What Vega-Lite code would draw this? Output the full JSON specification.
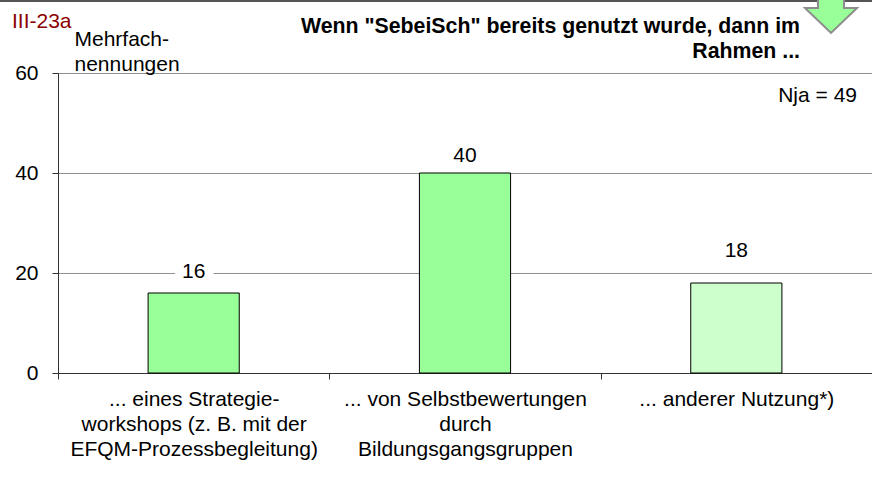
{"$schema":"https://vega.github.io/schema/vega-lite/v6.json","width":814,"height":300,"autosize":{"type":"none"},"padding":{"left":58,"top":73,"right":0,"bottom":124},"background":"white","view":{"stroke":null},"config":{"font":"Liberation Sans"},
"title":{"text":["Wenn \"SebeiSch\" bereits genutzt wurde, dann im","Rahmen ..."],"anchor":"end","align":"right","frame":"group","font":"Liberation Sans","fontSize":21.3,"fontWeight":"bold","color":"#000000","lineHeight":25,"dx":-72,"offset":-74},
"data":{"values":[{"kategorie":"... eines Strategie-\nworkshops (z. B. mit der\nEFQM-Prozessbegleitung)","anzahl":16,"farbe":"a"},{"kategorie":"... von Selbstbewertungen\ndurch\nBildungsgangsgruppen","anzahl":40,"farbe":"a"},{"kategorie":"... anderer Nutzung*)","anzahl":18,"farbe":"b"}]},
"resolve":{"scale":{"x":"independent"}},
"layer":[
{"layer":[
{"mark":{"type":"bar","width":{"band":0.336},"stroke":"#000000","strokeWidth":1},
"encoding":{"x":{"field":"kategorie","type":"nominal","sort":null,"scale":{"paddingInner":0,"paddingOuter":0},"axis":{"title":null,"labelAngle":0,"labelAlign":"center","labelBaseline":"top","labelFont":"Liberation Sans","labelFontSize":21,"labelColor":"#000000","labelLineHeight":25,"labelPadding":9,"labelLimit":0,"tickBand":"extent","tickColor":"#333333","tickSize":6,"domainColor":"#333333","grid":false,"labelExpr":"split(datum.label,'\\n')"}},
"y":{"field":"anzahl","type":"quantitative","scale":{"domain":[0,60],"nice":false,"clamp":false},"axis":{"title":["Mehrfach-","nennungen"],"titleFont":"Liberation Sans","titleFontSize":21,"titleFontWeight":"normal","titleColor":"#000000","titleAngle":0,"titleAlign":"left","titleBaseline":"alphabetic","titleLineHeight":25,"titleX":16,"titleY":-28,"values":[0,20,40,60],"labelFont":"Liberation Sans","labelFontSize":21,"labelColor":"#000000","labelPadding":14,"tickColor":"#333333","tickSize":6,"domainColor":"#333333","grid":true,"gridColor":"#222222","gridDash":[1,1],"gridWidth":1}},
"fill":{"field":"farbe","type":"nominal","legend":null,"scale":{"domain":["a","b"],"range":["#99FF99","#CCFFCC"]}}}},
{"mark":{"type":"text","baseline":"alphabetic","dy":-15,"fontSize":21,"font":"Liberation Sans","stroke":"white","strokeWidth":18,"strokeJoin":"round"},
"transform":[{"filter":"datum.anzahl===16"}],
"encoding":{"x":{"field":"kategorie","type":"nominal","sort":null},"y":{"field":"anzahl","type":"quantitative"},"text":{"field":"anzahl"}}},
{"mark":{"type":"text","baseline":"alphabetic","dy":-15,"fontSize":21,"font":"Liberation Sans","color":"#000000"},
"transform":[{"filter":"datum.anzahl===16"}],
"encoding":{"x":{"field":"kategorie","type":"nominal","sort":null},"y":{"field":"anzahl","type":"quantitative"},"text":{"field":"anzahl"}}},
{"mark":{"type":"text","baseline":"alphabetic","dy":-11,"fontSize":21,"font":"Liberation Sans","color":"#000000"},
"transform":[{"filter":"datum.anzahl===40"}],
"encoding":{"x":{"field":"kategorie","type":"nominal","sort":null},"y":{"field":"anzahl","type":"quantitative"},"text":{"field":"anzahl"}}},
{"mark":{"type":"text","baseline":"alphabetic","dy":-26,"fontSize":21,"font":"Liberation Sans","color":"#000000"},
"transform":[{"filter":"datum.anzahl===18"}],
"encoding":{"x":{"field":"kategorie","type":"nominal","sort":null},"y":{"field":"anzahl","type":"quantitative"},"text":{"field":"anzahl"}}}
]},
{"data":{"values":[{"hinweis":"Rahmen"}]},"layer":[
{"mark":{"type":"rule","color":"#555555","strokeWidth":2,"clip":false},"encoding":{"x":{"datum":-58,"type":"quantitative","scale":{"domain":[0,814],"range":[0,814],"nice":false,"zero":false},"axis":null},"x2":{"datum":814},"y":{"datum":74.4,"type":"quantitative"}}},
{"mark":{"type":"point","filled":true,"fill":"#99FF99","stroke":"#8C8C8C","strokeWidth":2,"opacity":1,"shape":"M-0.5,-0.6L0.5,-0.6L0.5,0L1,0L0,0.96L-1,0L-0.5,0Z","size":2704},"encoding":{"x":{"datum":773,"type":"quantitative","axis":null},"y":{"datum":73,"type":"quantitative"}}},
{"mark":{"type":"text","align":"left","baseline":"alphabetic","fontSize":21,"font":"Liberation Sans","color":"#8B0000"},"encoding":{"x":{"datum":-46,"type":"quantitative","axis":null},"y":{"datum":69,"type":"quantitative"},"text":{"value":"III-23a"}}},
{"mark":{"type":"text","align":"right","baseline":"alphabetic","fontSize":21,"font":"Liberation Sans","color":"#000000"},"encoding":{"x":{"datum":799,"type":"quantitative","axis":null},"y":{"datum":54.2,"type":"quantitative"},"text":{"value":"Nja = 49"}}}
]}
]}
